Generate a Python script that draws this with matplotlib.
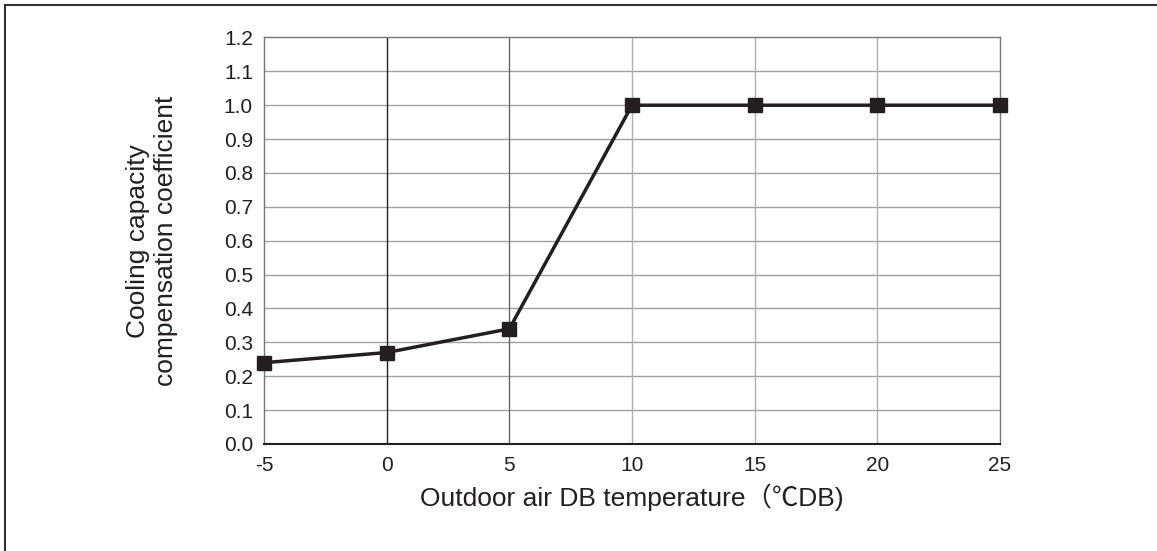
import matplotlib.pyplot as plt
from matplotlib.patches import Rectangle

# Outdoor air DB temperature (degC) and cooling capacity compensation coefficient
temps = [-5, 0, 5, 10, 15, 20, 25]
coeffs = [0.24, 0.27, 0.34, 1.0, 1.0, 1.0, 1.0]
x_ticks = [-5, 0, 5, 10, 15, 20, 25]
y_ticks = [0.0, 0.1, 0.2, 0.3, 0.4, 0.5, 0.6, 0.7, 0.8, 0.9, 1.0, 1.1, 1.2]

plt.rcParams['font.family'] = ['Liberation Sans', 'Noto Sans CJK SC', 'DejaVu Sans']
plt.rcParams['axes.unicode_minus'] = False

fig = plt.figure(figsize=(11.57, 5.51), dpi=100)
ax = fig.add_axes([0.2282, 0.1942, 0.6361, 0.7378])

# Grid lines: x=0 black, x=5 darker gray, rest light gray
for yv in y_ticks[1:-1]:
    ax.axhline(yv, color='#a0a0a0', lw=1.0, zorder=1)
for xv in x_ticks[1:-1]:
    if xv == 0:
        c = '#222222'
    elif xv == 5:
        c = '#666666'
    else:
        c = '#b0b0b0'
    ax.axvline(xv, color=c, lw=1.0, zorder=1)

ax.plot(temps, coeffs, color='#231f20', lw=2.5, marker='s', markersize=10,
        markerfacecolor='#231f20', markeredgecolor='#231f20', zorder=3, clip_on=False)

ax.set_xlim(-5, 25)
ax.set_ylim(0, 1.2)
ax.set_xticks(x_ticks)
ax.set_yticks(y_ticks)
ax.set_yticklabels([f"{v:.1f}" for v in y_ticks])
ax.tick_params(length=0, labelsize=15, colors='#231f20')
ax.tick_params(axis='x', pad=9)
ax.tick_params(axis='y', pad=8)

for side in ['left', 'top', 'right']:
    ax.spines[side].set_color('#777777')
    ax.spines[side].set_linewidth(1.0)
ax.spines['bottom'].set_color('#231f20')
ax.spines['bottom'].set_linewidth(1.5)

ax.set_xlabel("Outdoor air DB temperature（℃DB)", fontsize=19, color='#231f20', labelpad=6)
ax.set_ylabel("Cooling capacity\ncompensation coefficient", fontsize=19, color='#231f20',
              labelpad=33, linespacing=1.2)

# Outer frame (only top and left edges show)
fig.patches.append(Rectangle((5 / 1157, -0.1), 1.2, 1.1 - 5 / 551,
                             transform=fig.transFigure, fill=False,
                             edgecolor='#333333', lw=1.5))

fig.savefig('out.png', dpi=100)
